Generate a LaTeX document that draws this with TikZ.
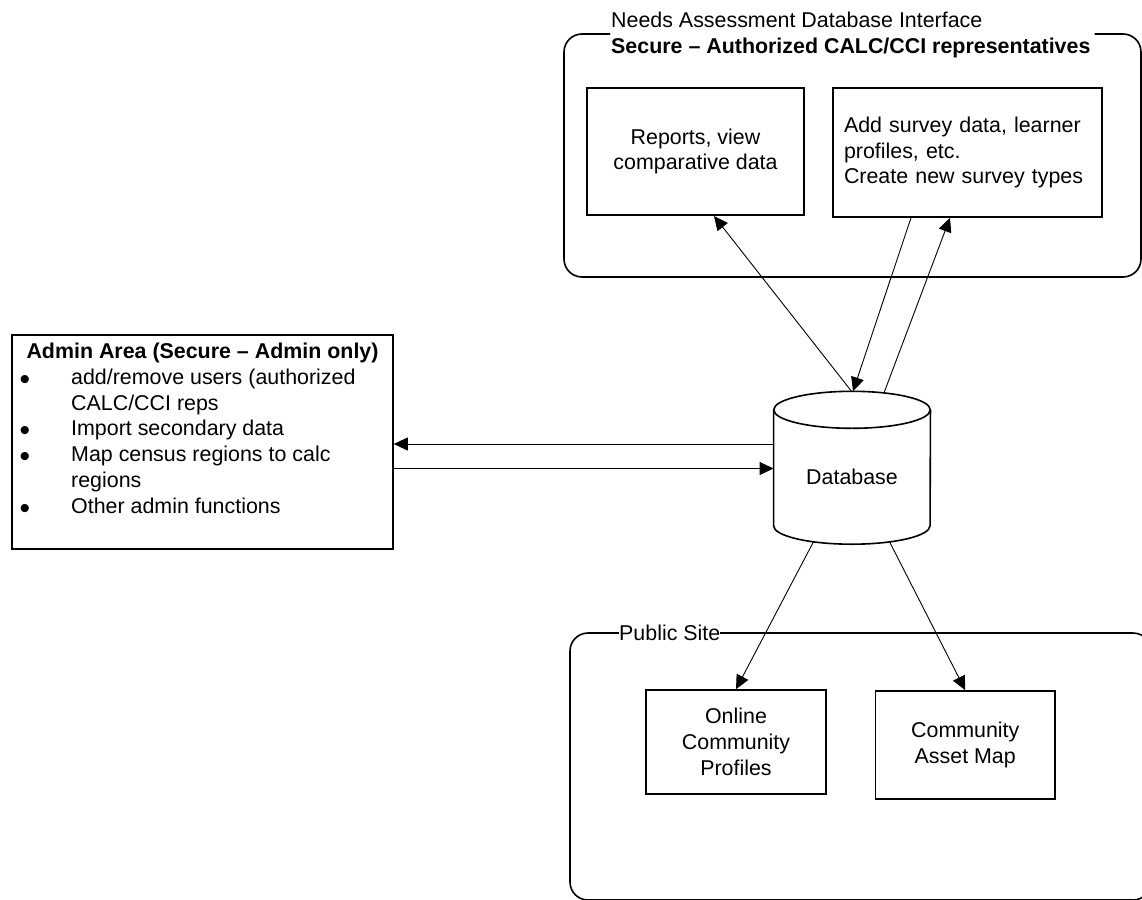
\documentclass[tikz,border=0pt]{standalone}
\usepackage{fontspec}
\setmainfont{Liberation Sans}
\usetikzlibrary{arrows.meta}
\begin{document}
\begin{tikzpicture}[x=1pt,y=-1pt,
  every node/.style={font=\fontsize{21.4pt}{25.7pt}\selectfont, inner sep=0pt},
  boxline/.style={line width=1.6pt, draw=black},
  box/.style={boxline, rectangle, fill=white, align=center},
  container/.style={line width=1.6pt, draw=black},
  conn/.style={line width=0.9pt, -{Triangle[length=14pt,width=13pt]}},
  lbl/.style={fill=white, inner sep=0pt},
  bul/.style={anchor=base, font=\fontsize{30pt}{30pt}\selectfont}
]
\path[use as bounding box] (0,0) rectangle (1142,899);
\clip (0,0) rectangle (1142,899);

% ---------- top container ----------
\draw[container, rounded corners=18pt] (1094.5,34) -- (1141,34) -- (1141,277) -- (564,277) -- (564,34) -- (610,34);
\node[anchor=base west] (natitle) at (611,27.5) {Needs Assessment Database Interface};
\node[anchor=base west, font=\fontsize{21.4pt}{25.7pt}\selectfont\bfseries] (nasub) at (611,54) {Secure – Authorized CALC/CCI representatives};

\node[box, minimum width=217pt, minimum height=127.5pt] (rep) at (695.5,151.5) {Reports, view\\comparative data};
\node[box, minimum width=269pt, minimum height=129pt, align=left, text width=247pt, inner xsep=11pt] (add) at (967.5,152.5) {Add survey data, learner\\profiles, etc.\\Create new survey types};

% ---------- admin box ----------
\node[box, minimum width=381pt, minimum height=214pt] (adm) at (202.5,442) {};
\node[anchor=base, font=\fontsize{21.4pt}{25.7pt}\selectfont\bfseries] (admtitle) at (202.5,358) {Admin Area (Secure – Admin only)};
\node[bul] (b1) at (25,389) {•};
\node[anchor=base west] (t1a) at (71,384) {add/remove users (authorized};
\node[anchor=base west] (t1b) at (71,410) {CALC/CCI reps};
\node[bul] (b2) at (25,440) {•};
\node[anchor=base west] (t2) at (71,435) {Import secondary data};
\node[bul] (b3) at (25,466) {•};
\node[anchor=base west] (t3a) at (71,461) {Map census regions to calc};
\node[anchor=base west] (t3b) at (71,487) {regions};
\node[bul] (b4) at (25,518) {•};
\node[anchor=base west] (t4) at (71,513) {Other admin functions};

% ---------- database ----------
\node[minimum width=156.5pt, minimum height=134pt] (db) at (852,477) {};
\draw[boxline, fill=white] (db.north west) -- ([yshift=18.5pt]db.south west)
  arc[start angle=180, end angle=360, x radius=78.25pt, y radius=18.5pt] -- (db.north east);
\draw[boxline, fill=white] (db.north) ellipse [x radius=78.25pt, y radius=18.5pt];
\node (dbtext) at (db.center) {Database};

% ---------- public site ----------
\draw[container, rounded corners=18pt] (719,633) -- (1151,633) -- (1151,900) -- (570,900) -- (570,633) -- (619,633);
\node[lbl, anchor=west] (pstitle) at (619,633) {Public Site};
\node[box, minimum width=180pt, minimum height=104pt] (ocp) at (736,742) {Online\\Community\\Profiles};
\node[box, minimum width=179.5pt, minimum height=108pt] (cam) at (965.25,745) {Community\\Asset Map};

% ---------- connectors ----------
\draw[conn] ([xshift=-0.5pt,yshift=18.5pt]db.north) -- ([xshift=18.5pt]rep.south);
\draw[conn] ([xshift=-56.5pt]add.south) -- ([xshift=1pt,yshift=18.5pt]db.north);
\draw[conn] ([xshift=32pt,yshift=17pt]db.north) -- ([xshift=-17.5pt]add.south);

\coordinate (h1) at ([yshift=33pt]db.west);
\coordinate (h2) at ([yshift=8.5pt]db.west);
\draw[conn] (h1) -- (h1 -| adm.east);
\draw[conn] (h2 -| adm.east) -- (h2);

\draw[conn] ([xshift=-38.5pt,yshift=2.5pt]db.south) -- (ocp.north);
\draw[conn] ([xshift=37.5pt,yshift=2.5pt]db.south) -- (cam.north);
\end{tikzpicture}
\end{document}
